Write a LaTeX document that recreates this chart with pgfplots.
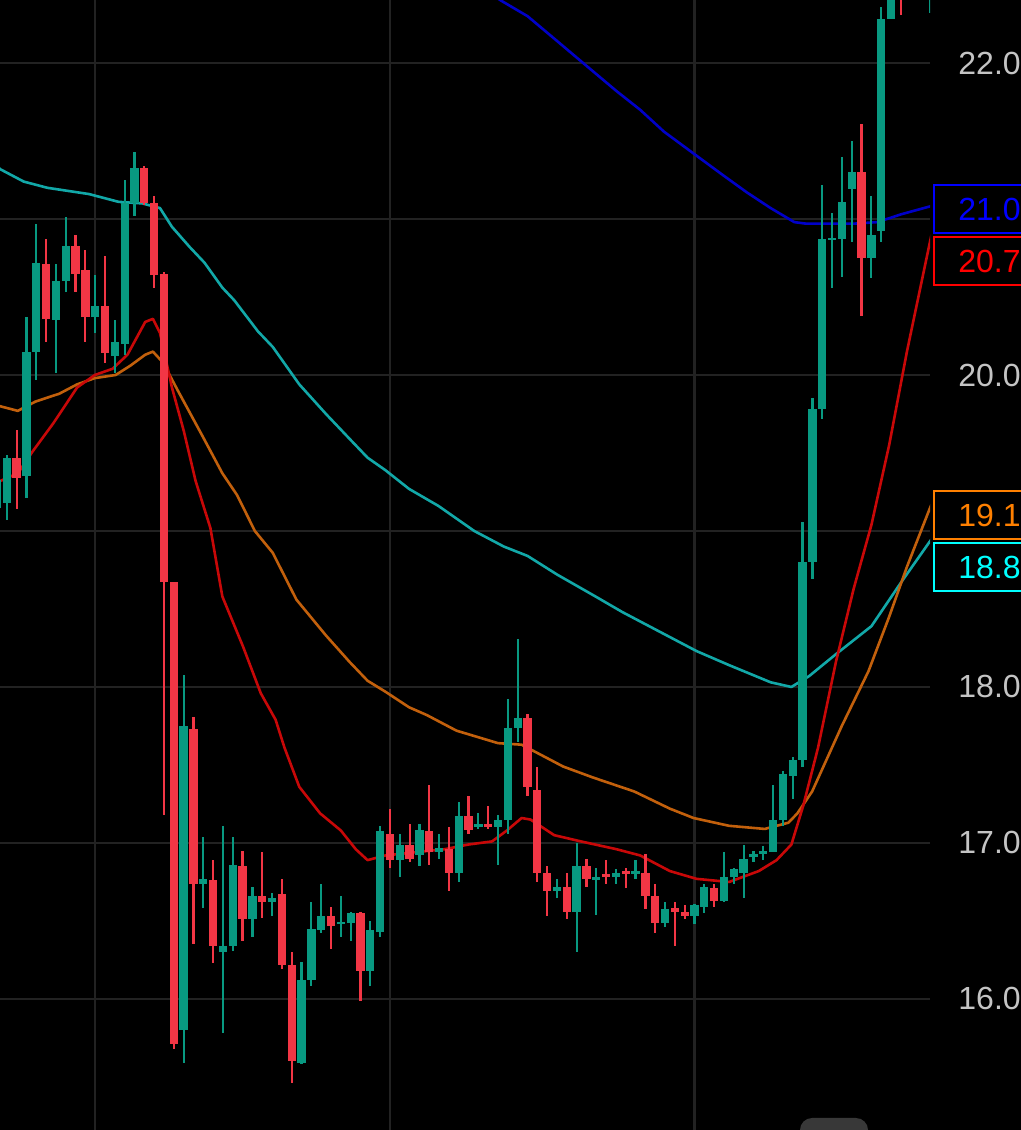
\documentclass[border=0pt]{standalone}
\usepackage{fontspec}
\setmainfont{Liberation Sans}
\usepackage{pgfplots}
\usepackage{pgfplotstable}
\pgfplotsset{compat=1.18}

\definecolor{up}{HTML}{089981}
\definecolor{down}{HTML}{F23645}
\definecolor{macyan}{HTML}{12A8A8}
\definecolor{maorange}{HTML}{C2600C}
\definecolor{mared}{HTML}{C80808}
\definecolor{mablue}{HTML}{0000C8}
\definecolor{gridc}{HTML}{222222}
\definecolor{tickc}{HTML}{C4C4C4}
\definecolor{lblblue}{HTML}{0000FF}
\definecolor{lblred}{HTML}{FF0000}
\definecolor{lblorange}{HTML}{FF8000}
\definecolor{lblcyan}{HTML}{00FFFF}

% rising candles: index, open, high, low, close
\pgfplotstableread{
i O H L C
-1 19.15 19.39 19.12 19.33
0 19.18 19.49 19.07 19.47
2 19.35 20.37 19.21 20.15
3 20.15 20.97 19.97 20.72
5 20.35 20.71 20.01 20.60
6 20.60 21.01 20.53 20.83
9 20.37 20.64 20.27 20.44
11 20.12 20.35 20.01 20.21
12 20.20 21.25 20.13 21.10
13 21.10 21.43 21.02 21.33
18 15.80 18.08 15.59 17.75
20 16.74 17.04 16.58 16.77
22 16.30 17.11 15.78 16.34
23 16.34 17.04 16.31 16.86
25 16.51 16.72 16.40 16.66
27 16.62 16.68 16.53 16.65
30 15.59 16.24 15.58 16.12
31 16.12 16.62 16.08 16.45
32 16.44 16.74 16.42 16.53
34 16.48 16.66 16.40 16.495
35 16.49 16.56 16.37 16.55
37 16.18 16.50 16.08 16.44
38 16.43 17.11 16.40 17.08
40 16.89 17.06 16.78 16.99
42 16.92 17.12 16.85 17.08
44 16.94 17.06 16.90 16.97
46 16.81 17.26 16.75 17.17
48 17.10 17.19 17.09 17.12
50 17.10 17.18 16.86 17.15
51 17.15 17.92 17.06 17.74
52 17.74 18.31 17.65 17.80
56 16.69 16.77 16.65 16.72
58 16.56 17.00 16.30 16.85
60 16.765 16.84 16.54 16.78
62 16.78 16.83 16.74 16.81
64 16.80 16.89 16.77 16.82
67 16.49 16.62 16.46 16.58
70 16.53 16.61 16.48 16.60
71 16.59 16.74 16.55 16.72
73 16.63 16.94 16.62 16.78
74 16.78 16.84 16.74 16.83
75 16.81 16.99 16.65 16.90
76 16.91 16.95 16.88 16.93
77 16.93 16.98 16.89 16.95
78 16.94 17.37 16.94 17.15
79 17.15 17.46 17.11 17.44
80 17.43 17.55 17.28 17.53
81 17.53 19.06 17.49 18.80
82 18.80 19.85 18.69 19.78
83 19.78 21.22 19.72 20.87
84 20.865 21.04 20.56 20.88
85 20.87 21.40 20.63 21.11
86 21.19 21.50 20.85 21.30
88 20.75 21.15 20.62 20.90
89 20.92 22.36 20.85 22.28
90 22.28 22.60 22.28 22.53
92 22.45 22.75 22.43 22.70
94 22.50 22.70 22.32 22.65
}\upcandles

% falling candles
\pgfplotstableread{
i O H L C
1 19.47 19.65 19.14 19.34
4 20.71 20.87 20.21 20.36
7 20.83 20.90 20.53 20.65
8 20.67 20.80 20.21 20.37
10 20.44 20.76 20.08 20.14
14 21.33 21.34 21.09 21.10
15 21.10 21.15 20.56 20.64
16 20.65 20.66 17.18 18.67
17 18.67 18.67 15.68 15.71
19 17.73 17.81 16.35 16.74
21 16.76 16.89 16.23 16.34
24 16.85 16.95 16.37 16.51
26 16.66 16.94 16.52 16.62
28 16.67 16.77 16.19 16.22
29 16.22 16.30 15.46 15.60
33 16.53 16.59 16.32 16.47
36 16.55 16.56 15.99 16.18
39 17.06 17.22 16.84 16.89
41 16.99 17.12 16.88 16.90
43 17.08 17.37 16.86 16.94
45 16.96 17.10 16.69 16.81
47 17.17 17.30 17.06 17.08
49 17.12 17.24 17.09 17.10
53 17.80 17.83 17.30 17.36
54 17.34 17.49 16.75 16.81
55 16.81 16.85 16.53 16.69
57 16.72 16.81 16.51 16.56
59 16.85 16.90 16.72 16.77
61 16.80 16.89 16.74 16.78
63 16.82 16.84 16.71 16.80
65 16.81 16.93 16.58 16.66
66 16.66 16.74 16.42 16.49
68 16.58 16.62 16.34 16.56
69 16.56 16.60 16.51 16.53
72 16.71 16.74 16.59 16.63
87 21.30 21.61 20.38 20.75
91 22.60 22.65 22.31 22.42
93 22.70 22.78 22.50 22.55
}\downcandles

\pgfplotsset{
  candle/.style 2 args={draw=none, mark=none, forget plot,
    error bars/.cd, y dir=both, y explicit, error mark=none,
    error bar style={draw=#1, line width=#2, line cap=butt}},
}

\begin{document}
\begin{tikzpicture}
\fill[black] (0,0) rectangle (510.5pt,565pt);
\begin{axis}[
    at={(0,0)}, anchor=south west,
    width=465pt, height=565pt, scale only axis,
    xmin=-0.692, xmax=93.97,
    ymin=15.160, ymax=22.404,
    axis line style={draw=none},
    tick style={draw=none},
    major tick length=0pt,
    xtick={9,39,70}, xticklabels={},
    ytick={16,17,18,19,20,21,22},
    yticklabels={16.0,17.0,18.0,,20.0,,22.0},
    yticklabel pos=right,
    yticklabel style={anchor=west, inner sep=0pt, xshift=14pt,
        text=tickc, font=\fontsize{16pt}{18pt}\selectfont},
    grid=major,
    major grid style={draw=gridc, line width=1.1pt},
    clip=true,
]

% moving averages
\addplot[macyan, line width=1.3pt, line join=round] coordinates {
(-1.5,21.37) (-0.69,21.32) (1.72,21.24) (4.13,21.20) (8.36,21.16) (11.38,21.11)
(13.79,21.10) (15.59,21.07) (16.81,20.95) (18.62,20.82) (20.12,20.72) (21.94,20.56)
(23.14,20.48) (25.56,20.28) (27.07,20.18) (29.77,19.94) (32.49,19.75) (34.90,19.59)
(36.72,19.47) (38.53,19.39) (40.94,19.27) (43.95,19.16) (47.58,19.00) (50.60,18.90)
(53.01,18.84) (56.03,18.72) (59.65,18.59) (62.66,18.48) (64.47,18.42) (67.49,18.32)
(70.21,18.23) (73.52,18.14) (77.75,18.03) (79.86,18.00) (81.67,18.07) (84.39,18.21)
(88.01,18.39) (91.02,18.67) (93.92,18.93) (94.5,18.98)};

\addplot[maorange, line width=1.3pt, line join=round] coordinates {
(-1.5,19.79) (-0.69,19.80) (1.12,19.77) (2.93,19.83) (5.34,19.88) (7.16,19.94)
(8.96,19.98) (11.08,20.00) (12.58,20.06) (14.09,20.13) (14.87,20.15) (15.90,20.08)
(17.41,19.90) (19.82,19.62) (21.94,19.37) (23.44,19.23) (25.25,19.00) (27.07,18.86)
(29.48,18.56) (32.49,18.33) (34.90,18.16) (36.72,18.04) (38.53,17.97) (40.94,17.87)
(42.75,17.82) (45.77,17.72) (49.99,17.64) (52.40,17.63) (53.61,17.59) (56.63,17.49)
(59.65,17.42) (63.87,17.33) (67.49,17.22) (69.90,17.16) (73.52,17.11) (77.15,17.09)
(79.56,17.13) (80.47,17.19) (81.97,17.33) (84.99,17.75) (87.70,18.10) (89.81,18.45)
(91.62,18.77) (93.92,19.14) (94.5,19.23)};

\addplot[mared, line width=1.3pt, line join=round] coordinates {
(-1.5,19.28) (-0.69,19.32) (1.12,19.37) (2.63,19.51) (4.73,19.69) (7.16,19.92)
(8.96,20.00) (10.77,20.04) (12.28,20.13) (14.09,20.34) (14.87,20.36) (15.59,20.27)
(16.81,19.92) (18.02,19.64) (19.22,19.32) (20.72,19.02) (21.94,18.58) (24.04,18.26)
(25.85,17.96) (27.36,17.79) (28.27,17.61) (29.77,17.36) (31.89,17.19) (34.00,17.08)
(35.52,16.96) (36.72,16.89) (38.53,16.92) (41.54,16.94) (44.56,16.96) (46.98,16.99)
(49.39,17.01) (50.90,17.08) (52.40,17.16) (53.31,17.15) (55.72,17.05) (58.44,17.01)
(62.06,16.96) (64.47,16.92) (67.49,16.82) (70.21,16.77) (73.52,16.75) (76.54,16.82)
(78.35,16.89) (79.86,16.99) (81.07,17.24) (82.57,17.61) (84.39,18.16) (86.20,18.63)
(88.01,19.04) (89.81,19.55) (91.62,20.15) (93.92,20.84) (94.5,21.01)};

\addplot[mablue, line width=1.3pt, line join=round] coordinates {
(47.15,22.53) (50.31,22.40) (53.01,22.30) (56.03,22.14) (59.04,21.98) (62.06,21.82)
(64.47,21.70) (66.89,21.56) (69.90,21.42) (72.92,21.28) (75.34,21.17) (77.75,21.07)
(80.16,20.98) (81.37,20.97) (86.20,20.97) (88.61,20.98) (91.02,21.03) (93.92,21.08)
(94.5,21.09)};

% wicks
\addplot[candle={up}{1.1pt}]
    table[x=i, y expr={(\thisrow{H}+\thisrow{L})/2},
          y error expr={(\thisrow{H}-\thisrow{L})/2}] {\upcandles};
\addplot[candle={down}{1.1pt}]
    table[x=i, y expr={(\thisrow{H}+\thisrow{L})/2},
          y error expr={(\thisrow{H}-\thisrow{L})/2}] {\downcandles};

% bodies
\addplot[candle={up}{4.15pt}]
    table[x=i, y expr={(\thisrow{O}+\thisrow{C})/2},
          y error expr={(\thisrow{C}-\thisrow{O})/2}] {\upcandles};
\addplot[candle={down}{4.15pt}]
    table[x=i, y expr={(\thisrow{O}+\thisrow{C})/2},
          y error expr={(\thisrow{O}-\thisrow{C})/2}] {\downcandles};
\end{axis}

% last-value boxes on the price scale
\begin{scope}[font=\fontsize{16pt}{18pt}\selectfont]
\draw[line width=1pt, draw=lblblue, fill=black] (467pt,448.5pt) rectangle (530pt,472.5pt);
\node[anchor=west, inner sep=0pt, text=lblblue] at (479pt,460.5pt) {21.0};
\draw[line width=1pt, draw=lblred, fill=black] (467pt,422.5pt) rectangle (530pt,446.5pt);
\node[anchor=west, inner sep=0pt, text=lblred] at (479pt,434.5pt) {20.7};
\draw[line width=1pt, draw=lblorange, fill=black] (467pt,295.5pt) rectangle (530pt,319.5pt);
\node[anchor=west, inner sep=0pt, text=lblorange] at (479pt,307.5pt) {19.1};
\draw[line width=1pt, draw=lblcyan, fill=black] (467pt,269.5pt) rectangle (530pt,293.5pt);
\node[anchor=west, inner sep=0pt, text=lblcyan] at (479pt,281.5pt) {18.8};
\end{scope}

% button at the bottom edge
\fill[fill=black!78, rounded corners=6pt] (400pt,-8pt) rectangle (434pt,6pt);

\pgfresetboundingbox
\path[use as bounding box] (0,0) rectangle (510.5pt,565pt);
\end{tikzpicture}
\end{document}
